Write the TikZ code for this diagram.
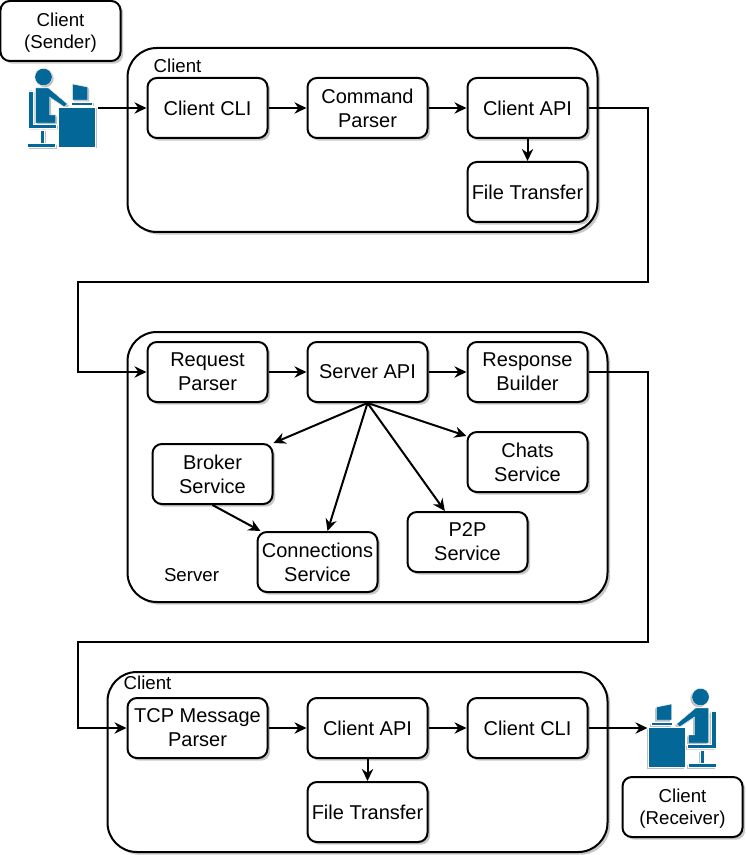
\documentclass[tikz,border=0pt]{standalone}
\usepackage{fontspec}
\setmainfont{Liberation Sans}
\usetikzlibrary{arrows.meta,shadows}
\definecolor{iconblue}{HTML}{036897}
\newcommand{\tagstrut}{\rule{0pt}{12pt}}
\tikzset{
  softshadow/.style={drop shadow={shadow xshift=2pt,shadow yshift=-2pt,fill=black,opacity=0.22}},
  group/.style={draw,line width=1.5pt,fill=white,rounded corners=22pt,softshadow,inner sep=0pt},
  block/.style={draw,line width=1.5pt,fill=white,rounded corners=7pt,softshadow,inner sep=0pt,
    minimum width=90pt,minimum height=45pt,align=center,font=\fontsize{15}{18}\selectfont},
  tag/.style={block,font=\fontsize{14}{16.5}\selectfont},
  caption/.style={inner sep=0pt,font=\fontsize{14}{17}\selectfont},
  flow/.style={line width=1.5pt,-{Stealth[length=9pt,width=8.5pt]}},
  iconpart/.style={fill=iconblue,draw=white,line width=0.3pt},
  iconshade/.style={fill=black!25,draw=none,shift={(1.5,1.5)}},
  deskuser/.pic={
    \foreach \kind in {iconshade,iconpart} {
      \path[\kind] (44,77) circle (8.7);
      \path[\kind] (36,88) -- (49,88) -- (68,104) -- (65,107) -- (50,97) -- (50,115) -- (56,115) -- (56,123) -- (36,123) -- cycle;
      \path[\kind] (28.5,91) -- (33.5,91) -- (33.5,124) -- (57,124) -- (57,128) -- (28.5,128) -- cycle;
      \path[\kind] (40.5,130) rectangle (44.5,144);
      \path[\kind] (28,143.5) rectangle (56,147.5);
      \path[\kind] (59,107) rectangle (96,147);
      \path[\kind] (73,84) -- (88,87) -- (88,100) -- (73,100) -- cycle;
      \path[\kind] (72,102) rectangle (93,105);
    }
  }
}
\begin{document}
\begin{tikzpicture}[x=0.75pt,y=-0.75pt]
\useasboundingbox (0.5,0) rectangle (745.5,855);

% outer groups
\node[group,minimum width=352.5pt,minimum height=138pt] (clientgroupa) at (363,140) {};
\node[group,minimum width=360pt,minimum height=202.5pt] (servergroup) at (368,467) {};
\node[group,minimum width=375pt,minimum height=135pt] (clientgroupb) at (358,762) {};

\node[caption] (clientcaptiona) at (178,66) {Client};
\node[caption] (servercaption) at (192,575) {Server};
\node[caption] (clientcaptionb) at (148,683) {Client};

% sender and receiver
\node[tag] (sendertag) at (61,31) {\tagstrut Client\\(Sender)};
\pic at (0,0) {deskuser};
\coordinate (senderdesk) at (98,108);

\node[tag] (receivertag) at (683,807) {\tagstrut Client\\(Receiver)};
\begin{scope}[shift={(745,620)},x=-0.75pt]
  \pic at (0,0) {deskuser};
\end{scope}
\coordinate (receiverdesk) at (648,728);

% first client
\node[block] (clientclia) at (208,108) {Client CLI};
\node[block] (cmdparser) at (368,108) {Command\\Parser};
\node[block] (clientapia) at (528,108) {Client API};
\node[block] (filetransa) at (528,192) {File Transfer};

% server
\node[block] (reqparser) at (208,372) {Request\\Parser};
\node[block] (serverapi) at (368,372) {Server API};
\node[block] (respbuilder) at (528,372) {Response\\Builder};
\node[block] (chats) at (528,462) {Chats\\Service};
\node[block] (broker) at (213,474) {Broker\\Service};
\node[block] (p2p) at (468,542) {P2P\\Service};
\node[block] (connections) at (318,562) {Connections\\Service};

% second client
\node[block,minimum width=105pt] (tcpparser) at (198,728) {TCP Message\\Parser};
\node[block] (clientapib) at (368,728) {Client API};
\node[block] (clientclib) at (528,728) {Client CLI};
\node[block] (filetransb) at (368,812) {File Transfer};

% connectors
\draw[flow] (senderdesk) -- (clientclia.west);
\draw[flow] (clientclia) -- (cmdparser);
\draw[flow] (cmdparser) -- (clientapia);
\draw[flow] (clientapia) -- (filetransa);
\draw[flow] (clientapia.east) -- (648,108) -- (648,282) -- (78,282) -- (78,372) -- (reqparser.west);

\draw[flow] (reqparser) -- (serverapi);
\draw[flow] (serverapi) -- (respbuilder);
\draw[flow] (serverapi.south) -- (broker.north east);
\draw[flow] (serverapi.south) -- ([xshift=7.5pt]connections.north);
\draw[flow] (serverapi.south) -- ([xshift=-17pt]p2p.north);
\draw[flow] (serverapi.south) -- ([yshift=-3.75pt]chats.north west);
\draw[flow] (broker.south) -- ([xshift=3pt]connections.north west);
\draw[flow] (respbuilder.east) -- (648,372) -- (648,642) -- (78,642) -- (78,728) -- (tcpparser.west);

\draw[flow] (tcpparser) -- (clientapib);
\draw[flow] (clientapib) -- (clientclib);
\draw[flow] (clientapib) -- (filetransb);
\draw[flow] (clientclib.east) -- (receiverdesk);
\end{tikzpicture}
\end{document}
